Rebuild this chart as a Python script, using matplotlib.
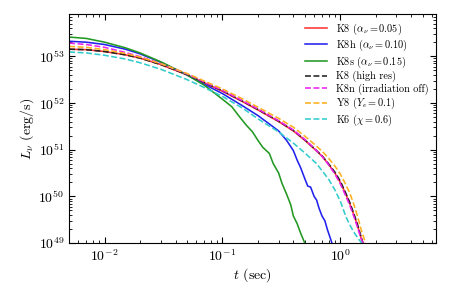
import numpy as np
import matplotlib
matplotlib.use("Agg")
import matplotlib.pyplot as plt

plt.rcParams["font.family"] = "cmr10"
plt.rcParams["mathtext.fontset"] = "cm"
plt.rcParams["axes.formatter.use_mathtext"] = True
plt.rcParams["axes.unicode_minus"] = False

# time grid (sec) and log10 luminosity for each model
t_k8 = [0.005, 0.007, 0.01, 0.015, 0.02, 0.03, 0.05, 0.07, 0.1, 0.15, 0.2, 0.3,
        0.4, 0.5, 0.6, 0.7, 0.8, 0.9, 1.0, 1.1, 1.2, 1.3, 1.4, 1.5, 1.56]
logL_k8 = [53.15, 53.14, 53.10, 53.03, 52.96, 52.82, 52.60, 52.43, 52.25, 52.02, 51.85, 51.60,
           51.40, 51.20, 51.02, 50.86, 50.68, 50.50, 50.30, 50.08, 49.86, 49.62, 49.38, 49.12, 49.0]

t_k8hr = t_k8
logL_k8hr = [53.15, 53.14, 53.10, 53.03, 52.96, 52.82, 52.61, 52.44, 52.26, 52.03, 51.86, 51.61,
             51.41, 51.21, 51.03, 50.87, 50.69, 50.52, 50.33, 50.10, 49.88, 49.64, 49.40, 49.14, 49.0]

t_k8n = t_k8
logL_k8n = [53.28, 53.25, 53.19, 53.08, 52.99, 52.84, 52.62, 52.45, 52.27, 52.04, 51.87, 51.62,
            51.42, 51.22, 51.03, 50.86, 50.67, 50.48, 50.27, 50.04, 49.82, 49.58, 49.34, 49.10, 49.0]

t_y8 = [0.005, 0.007, 0.01, 0.015, 0.02, 0.03, 0.05, 0.07, 0.1, 0.15, 0.2, 0.3,
        0.4, 0.5, 0.6, 0.7, 0.8, 0.9, 1.0, 1.1, 1.2, 1.3, 1.4, 1.5, 1.64]
logL_y8 = [53.21, 53.19, 53.14, 53.06, 52.98, 52.84, 52.63, 52.47, 52.30, 52.08, 51.91, 51.67,
           51.48, 51.29, 51.12, 50.97, 50.81, 50.65, 50.48, 50.28, 50.08, 49.84, 49.58, 49.30, 49.0]

t_k8h = [0.005, 0.007, 0.01, 0.015, 0.02, 0.03, 0.05, 0.07, 0.1, 0.15, 0.2, 0.25, 0.3,
         0.35, 0.4, 0.43, 0.46, 0.5, 0.53, 0.56, 0.6, 0.63, 0.66, 0.7, 0.74, 0.78, 0.82, 0.85]
logL_k8h = [53.32, 53.30, 53.25, 53.15, 53.05, 52.87, 52.60, 52.40, 52.20, 51.93, 51.73, 51.55, 51.40,
            51.20, 50.98, 50.78, 50.62, 50.38, 50.22, 50.20, 50.00, 49.92, 49.75, 49.58, 49.48, 49.28, 49.12, 49.0]

t_k8s = [0.005, 0.007, 0.01, 0.015, 0.02, 0.03, 0.05, 0.07, 0.1, 0.12, 0.14, 0.16, 0.18,
         0.2, 0.22, 0.25, 0.27, 0.3, 0.32, 0.35, 0.38, 0.4, 0.43, 0.46, 0.5]
logL_k8s = [53.41, 53.38, 53.30, 53.18, 53.07, 52.88, 52.60, 52.38, 52.08, 51.92, 51.70, 51.52, 51.38,
            51.20, 51.05, 50.92, 50.70, 50.50, 50.28, 50.05, 49.82, 49.58, 49.42, 49.22, 49.0]

t_k6 = [0.005, 0.007, 0.01, 0.015, 0.02, 0.03, 0.05, 0.07, 0.1, 0.15, 0.2, 0.3,
        0.4, 0.5, 0.63, 0.8, 0.9, 1.0, 1.12, 1.2, 1.3, 1.4, 1.52]
logL_k6 = [53.09, 53.07, 53.02, 52.94, 52.86, 52.72, 52.50, 52.33, 52.14, 51.88, 51.66, 51.38,
           51.14, 50.93, 50.70, 50.36, 50.14, 49.90, 49.56, 49.40, 49.24, 49.12, 49.0]

series = [
    (t_k8, logL_k8, r"K8 ($\alpha_\nu = 0.05$)", "#ff3333", "-"),
    (t_k8h, logL_k8h, r"K8h ($\alpha_\nu = 0.10$)", "#2222ee", "-"),
    (t_k8s, logL_k8s, r"K8s ($\alpha_\nu = 0.15$)", "#229922", "-"),
    (t_k8hr, logL_k8hr, "K8 (high res)", "#222222", "--"),
    (t_k8n, logL_k8n, "K8n (irradiation off)", "#ee22ee", "--"),
    (t_y8, logL_y8, r"Y8 ($Y_e = 0.1$)", "#ffb020", "--"),
    (t_k6, logL_k6, r"K6 ($\chi = 0.6$)", "#33cccc", "--"),
]

fig = plt.figure(figsize=(4.58, 2.86), dpi=100)
ax = fig.add_axes([0.151, 0.150, 0.801, 0.801])

for t, logL, label, color, ls in series:
    ax.plot(t, 10.0 ** np.array(logL), color=color, ls=ls, lw=1.15, label=label)

ax.set_xscale("log")
ax.set_yscale("log")
ax.set_xlim(0.005, 6.5)
ax.set_ylim(1e49, 8e53)
ax.set_xlabel(r"$t$ (sec)", fontsize=10, labelpad=2)
ax.set_ylabel(r"$L_\nu$ (erg/s)", fontsize=10, labelpad=2)
ax.tick_params(which="both", direction="in", top=True, right=True, labelsize=10)
ax.tick_params(which="major", length=4)
ax.tick_params(which="minor", length=2)

ax.legend(loc="upper right", frameon=False, fontsize=7.4, handlelength=2.1,
          handletextpad=0.9, labelspacing=0.12, borderaxespad=0.3)

fig.savefig("out.png", dpi=100)
